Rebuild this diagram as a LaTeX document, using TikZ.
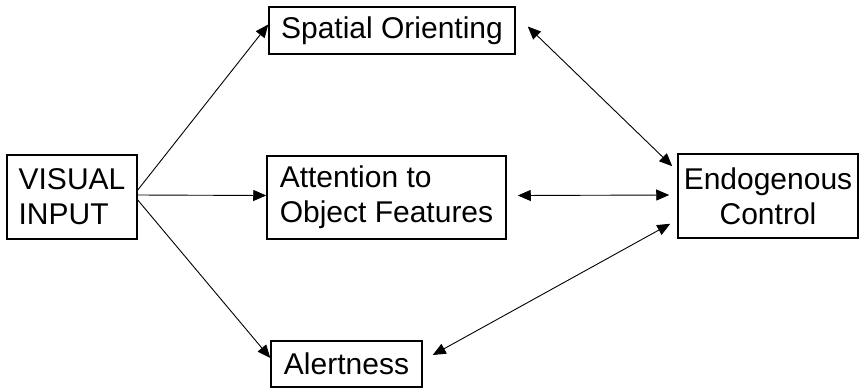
\documentclass[tikz,border=0pt]{standalone}
\usepackage{fontspec}
\setmainfont{Liberation Sans}
\usetikzlibrary{arrows.meta}
\begin{document}
\begin{tikzpicture}[x=1pt,y=-1pt,
  box/.style={draw,line width=1.5pt,rectangle,inner sep=0pt,
    font=\fontsize{30}{35}\selectfont},
  link/.style={line width=0.9pt,-{Triangle[length=13pt,width=11pt]}},
  both/.style={line width=0.9pt,{Triangle[length=13pt,width=11pt]}-{Triangle[length=13pt,width=11pt]}}]
  \useasboundingbox (0,0) rectangle (862,389);

  % boxes
  \node[box,minimum width=130pt,minimum height=84pt,align=left] (visual) at (72,197) {VISUAL\\INPUT};
  \node[box,minimum width=246pt,minimum height=47pt] (spatial) at (392,30.5) {Spatial Orienting};
  \node[box,minimum width=239pt,minimum height=83pt,align=left] (attention) at (386.5,197.5) {Attention to\\Object Features};
  \node[box,minimum width=180pt,minimum height=84pt,align=center] (endo) at (768,196) {Endogenous\\Control};
  \node[box,minimum width=151pt,minimum height=46pt] (alert) at (346.5,364) {Alertness};

  % input fan-out
  \draw[link] ([yshift=7pt]visual.east) -- ([yshift=6pt]spatial.west);
  \draw[link] ([yshift=2pt]visual.east) -- ([yshift=2pt]attention.west);
  \draw[link] ([yshift=-3pt]visual.east) -- ([yshift=6pt]alert.west);

  % two-way links with endogenous control
  \draw[both] ([xshift=12pt,yshift=4pt]spatial.east) -- ([xshift=-5pt,yshift=-13pt]endo.north west);
  \draw[both] ([xshift=11pt,yshift=2pt]attention.east) -- ([xshift=-8pt,yshift=1pt]endo.west);
  \draw[both] ([xshift=10pt,yshift=9pt]alert.east) -- ([xshift=-7pt,yshift=15pt]endo.south west);
\end{tikzpicture}
\end{document}
